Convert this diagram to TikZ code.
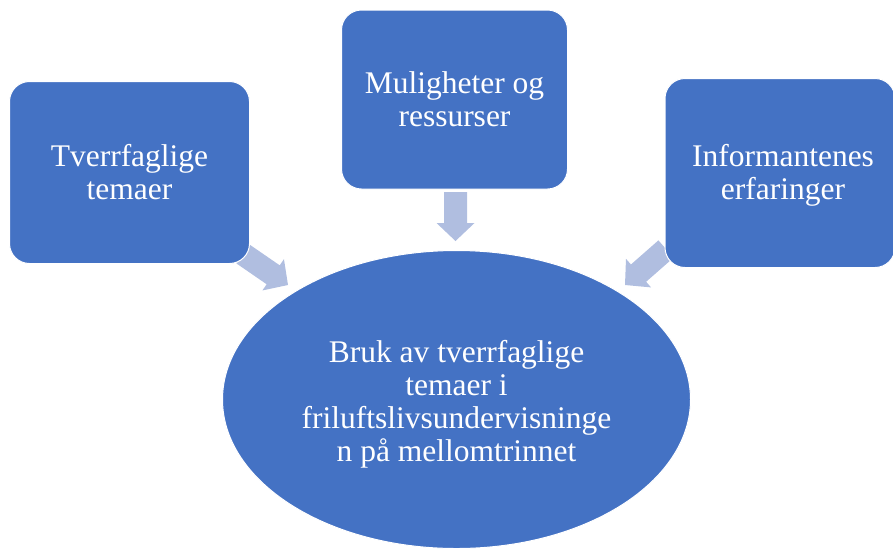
\documentclass[tikz,border=0pt]{standalone}
\usepackage{fontspec}
\setmainfont{Liberation Serif}
\usetikzlibrary{calc,shapes.geometric}
\definecolor{boxblue}{HTML}{4472C4}
\definecolor{arrowblue}{HTML}{B0BEE0}
\tikzset{
  box/.style={draw=white, line width=1pt, fill=boxblue, rounded corners=20pt,
    text=white, align=center, inner sep=0pt,
    font=\fontsize{31.5}{33}\selectfont},
  oval/.style={ellipse, draw=white, line width=1pt, fill=boxblue, inner sep=0pt},
  ovaltext/.style={text=white, align=center, inner sep=0pt, font=\fontsize{31.5}{33}\selectfont},
  blockarrow/.style={fill=arrowblue, draw=none}
}
\newcommand{\blkarrow}[2]{%
  \coordinate (hb) at ($(#2)!18pt!(#1)$);
  \fill[blockarrow] ($(#1)!11.5pt!90:(#2)$) -- ($(hb)!11.5pt!-90:(#1)$) -- ($(hb)!19pt!-90:(#1)$)
    -- (#2) -- ($(hb)!19pt!90:(#1)$) -- ($(hb)!11.5pt!90:(#1)$) -- ($(#1)!11.5pt!-90:(#2)$) -- cycle;
}
\begin{document}
\begin{tikzpicture}[x=1pt,y=-1pt]
\useasboundingbox (0,0) rectangle (893,550);
% arrow end points
\coordinate (la) at (243,254);
\coordinate (lb) at (288,285);
\coordinate (ma) at (455.5,192);
\coordinate (mb) at (455.5,241);
\coordinate (ra) at (666,249);
\coordinate (rb) at (625,285);
\blkarrow{la}{lb}
\blkarrow{ma}{mb}
\blkarrow{ra}{rb}
% boxes
\node[box, minimum width=240pt, minimum height=182pt] (left) at (129.5,172.5) {Tverrfaglige\\temaer};
\node[box, minimum width=226pt, minimum height=179pt] (mid) at (454.5,99.5) {Muligheter og\\ressurser};
\node[box, minimum width=230pt, minimum height=189pt] (right) at (780,173) {};
\node[ovaltext] (righttext) at (783,175) {Informantenes\\erfaringer};
% ellipse
\node[oval, minimum width=468pt, minimum height=298pt] (goal) at (456.5,399.5) {};
\node[ovaltext] (goaltext) at (456.5,404)
  {Bruk av tverrfaglige\\temaer i\\friluftslivsundervisninge\\n på mellomtrinnet};
\end{tikzpicture}
\end{document}
